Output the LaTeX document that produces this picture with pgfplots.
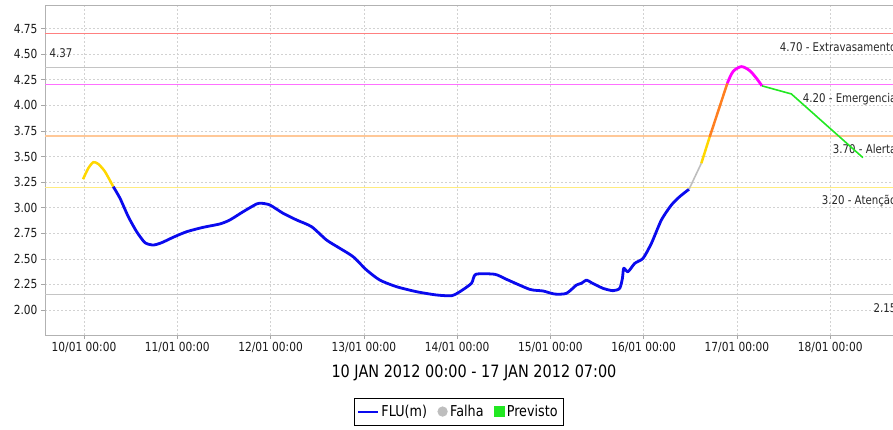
\documentclass[border=0pt]{standalone}
\usepackage{fontspec}
\setmainfont{DejaVu Sans}[FakeStretch=0.85]
\usepackage{pgfplots}
\pgfplotsset{compat=1.18}

\definecolor{flublue}{HTML}{0A0AEE}
\definecolor{curveyellow}{HTML}{FFD700}
\definecolor{curveorange}{HTML}{FF7F20}
\definecolor{curvemagenta}{HTML}{FF00FF}
\definecolor{prevgreen}{HTML}{22E822}
\definecolor{falhagray}{HTML}{BEBEBE}
\definecolor{lvlgray}{HTML}{C4C4C4}
\definecolor{lvlmagenta}{HTML}{FF70FF}
\definecolor{lvlorange}{HTML}{FFC898}
\definecolor{lvlyellow}{HTML}{FFEC80}
\definecolor{lvlsalmon}{RGB}{255,128,128}

\pgfplotsset{
  legline/.style={legend image code/.code={\draw[flublue,line width=2pt] (0pt,0pt) -- (20pt,0pt);}},
  legdot/.style={legend image code/.code={\fill[falhagray] (5pt,0pt) circle (4.7pt);}},
  legsq/.style={legend image code/.code={\fill[prevgreen] (0pt,-4.7pt) rectangle (9.4pt,4.7pt);}},
}

\begin{document}
\begin{tikzpicture}
\begin{axis}[
    at={(45pt,94pt)}, anchor=south west,
    scale only axis, width=858pt, height=330pt,
    xmin=-0.418, xmax=8.78, ymin=1.756, ymax=4.98,
    xtick={0,1,...,8},
    xticklabels={10/01 00:00,11/01 00:00,12/01 00:00,13/01 00:00,14/01 00:00,
                 15/01 00:00,16/01 00:00,17/01 00:00,18/01 00:00},
    ytick={2,2.25,...,4.75},
    yticklabel={\pgfmathprintnumber[fixed,fixed zerofill,precision=2,assume math mode=true]{\tick}},
    ticklabel style={font=\fontsize{12.5}{14}\selectfont, text=black!90},
    xtick pos=bottom, ytick pos=left,
    tick align=outside, major tick length=4pt,
    tick style={gray!70, line width=0.6pt},
    axis line style={gray!60, line width=0.8pt},
    grid=major,
    major grid style={gray!35, line width=0.6pt, dash pattern=on 2pt off 2pt},
    xlabel={10 JAN 2012 00:00 - 17 JAN 2012 07:00},
    xlabel style={font=\fontsize{17}{19}\selectfont, anchor=center,
                  at={(axis description cs:0.5,-0.115)}},
    legend columns=-1,
    legend style={at={(0.482,-0.232)}, anchor=center, draw=black,
                  line width=0.8pt, font=\fontsize{15}{17}\selectfont,
                  inner xsep=3pt, inner ysep=6pt,
                  nodes={inner xsep=2.5pt, inner ysep=1pt},
                  /tikz/every even column/.append style={column sep=8pt}},
  ]

  % level lines
  \addplot[lvlgray, line width=1.3pt, forget plot] coordinates {(-0.418,4.37) (8.78,4.37)};
  \addplot[lvlmagenta, line width=1.3pt, forget plot] coordinates {(-0.418,4.20) (8.78,4.20)};
  \addplot[lvlorange, line width=1.6pt, forget plot] coordinates {(-0.418,3.70) (8.78,3.70)};
  \addplot[lvlyellow, line width=1.3pt, forget plot] coordinates {(-0.418,3.20) (8.78,3.20)};
  \addplot[lvlgray, line width=1.3pt, forget plot] coordinates {(-0.418,2.15) (8.78,2.15)};
  \addplot[draw=lvlsalmon, line width=1.4pt, forget plot] coordinates {(-0.418,4.70) (8.78,4.70)};

  \begin{scope}[font=\fontsize{12}{14}\selectfont, text=black!85]
  \node[anchor=base east, inner sep=0pt, yshift=-17.5pt] at (axis cs:8.711,4.70) {4.70 - Extravasamento};
  \node[anchor=base east, inner sep=0pt, yshift=-17.5pt] at (axis cs:8.711,4.20) {4.20 - Emergencia};
  \node[anchor=base east, inner sep=0pt, yshift=-17.5pt] at (axis cs:8.711,3.70) {3.70 - Alerta};
  \node[anchor=base east, inner sep=0pt, yshift=-17.5pt] at (axis cs:8.711,3.20) {3.20 - Atenção};
  \node[anchor=base east, inner sep=0pt, yshift=-17.5pt] at (axis cs:8.711,2.15) {2.15};
  \node[anchor=base west, xshift=1pt, yshift=10pt] at (axis cs:-0.418,4.37) {4.37};
  \end{scope}

  % observed level, attention range
  \addplot[curveyellow, line width=2.5pt, smooth, tension=0.4, forget plot] coordinates {
    (-0.01,3.278) (0.046,3.385) (0.100,3.444) (0.153,3.427) (0.225,3.352) (0.314,3.205)
  };
  % observed level, normal range
  \addplot[flublue, line width=2.8pt, smooth, tension=0.4, line join=round, forget plot] coordinates {
    (0.314,3.205) (0.386,3.092) (0.475,2.912) (0.565,2.765) (0.654,2.658) (0.743,2.635)
    (0.833,2.658) (0.957,2.711) (1.100,2.765) (1.278,2.808) (1.457,2.841) (1.564,2.880)
    (1.707,2.961) (1.850,3.036) (1.904,3.043) (1.993,3.026) (2.135,2.945) (2.279,2.880)
    (2.440,2.814) (2.600,2.684) (2.743,2.603) (2.885,2.521) (3.029,2.391) (3.171,2.293)
    (3.350,2.228) (3.565,2.179) (3.779,2.147) (3.940,2.140) (4.029,2.179) (4.154,2.261)
    (4.200,2.349) (4.404,2.349) (4.529,2.300) (4.779,2.202) (4.921,2.186) (5.046,2.156)
    (5.172,2.163) (5.279,2.244) (5.333,2.261) (5.386,2.293) (5.440,2.267) (5.564,2.212)
    (5.671,2.189) (5.743,2.212) (5.772,2.310) (5.786,2.408) (5.832,2.374) (5.904,2.456)
    (5.993,2.505) (6.083,2.652) (6.190,2.880) (6.297,3.026) (6.386,3.108) (6.486,3.180)
  };
  % failure gap
  \addplot[falhagray, line width=1.6pt, forget plot] coordinates {
    (6.486,3.180) (6.618,3.434)
  };
  \addplot[curveyellow, line width=2.5pt, forget plot] coordinates {
    (6.618,3.434) (6.707,3.690)
  };
  \addplot[curveorange, line width=2.5pt, forget plot] coordinates {
    (6.707,3.690) (6.897,4.216)
  };
  \addplot[curvemagenta, line width=2.8pt, smooth, tension=0.5, forget plot] coordinates {
    (6.897,4.216) (6.957,4.329) (7.047,4.378) (7.136,4.339) (7.208,4.265) (7.268,4.190)
  };
  % forecast
  \addplot[prevgreen, line width=1.6pt, forget plot] coordinates {
    (7.268,4.190) (7.583,4.111) (8.350,3.489)
  };

  \addlegendimage{legline}
  \addlegendentry{FLU(m)}
  \addlegendimage{legdot}
  \addlegendentry{Falha}
  \addlegendimage{legsq}
  \addlegendentry{Previsto}
\end{axis}
\pgfresetboundingbox
\useasboundingbox (0,0) rectangle (893pt,429pt);
\end{tikzpicture}
\end{document}
